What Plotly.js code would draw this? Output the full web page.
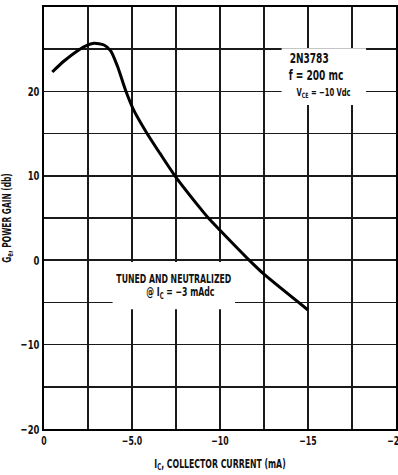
<!DOCTYPE html>
<html>
<head>
<meta charset="utf-8">
<script src="https://cdn.plot.ly/plotly-3.0.1.min.js"></script>
<style>
html,body{margin:0;padding:0;background:#fff;}
#chart{width:398px;height:475px;}
#chart svg text{font-stretch:condensed;}
</style>
</head>
<body>
<div id="chart"></div>
<script>
// Collector current (mA) and power gain (db)
const collectorCurrent = [-0.47, -1.14, -1.89, -2.5, -2.84, -3.41, -3.79, -4.17, -4.64, -5.07, -5.83, -6.59, -7.44, -8.86, -9.34, -10.0, -11.7, -12.5, -15.0];
const powerGain = [22.3, 23.6, 24.8, 25.5, 25.7, 25.5, 24.8, 23.0, 20.1, 17.9, 15.1, 12.65, 10.0, 6.2, 5.0, 3.55, -0.08, -1.66, -5.9];

const xTickVals = [0, -2.5, -5, -7.5, -10, -12.5, -15, -17.5, -20];
const xTickText = ['0', '', '\u22125.0', '', '\u221210', '', '\u221215', '', '\u221220'];
const yTickVals = [30, 25, 20, 15, 10, 5, 0, -5, -10, -15, -20];
const yTickText = ['30', '', '20', '', '10', '', '0', '', '\u221210', '', '\u221220'];

const FONT = 'DejaVu Sans Condensed, DejaVu Sans, sans-serif';
const SQUEEZE = 0.72; // narrow the glyphs toward the condensed type of the reference

const trace = {
  x: collectorCurrent,
  y: powerGain,
  mode: 'lines',
  line: {color: '#000', width: 3, shape: 'spline', smoothing: 0.7},
  hoverinfo: 'skip',
  showlegend: false
};

const layout = {
  width: 398,
  height: 475,
  margin: {l: 44, r: 2, t: 7, b: 46},
  paper_bgcolor: '#fff',
  plot_bgcolor: '#fff',
  font: {family: FONT, color: '#111', size: 13, weight: 'bold'},
  xaxis: {
    range: [0, -20],
    tickvals: xTickVals,
    ticktext: xTickText,
    ticklabeloverflow: 'allow',
    showgrid: true,
    gridcolor: '#1a1a1a',
    gridwidth: 1.5,
    zeroline: false,
    showline: true,
    mirror: true,
    linecolor: '#000',
    linewidth: 2,
    ticks: '',
    tickfont: {family: FONT, size: 12, weight: 'bold', color: '#111'},
    title: {text: 'I<sub>C</sub>, COLLECTOR CURRENT (mA)', font: {family: FONT, size: 12, weight: 'bold', color: '#111'}, standoff: 12}
  },
  yaxis: {
    range: [-20, 30],
    tickvals: yTickVals,
    ticktext: yTickText,
    showgrid: true,
    gridcolor: '#1a1a1a',
    gridwidth: 1.5,
    zeroline: false,
    showline: true,
    mirror: true,
    linecolor: '#000',
    linewidth: 2,
    ticks: '',
    tickfont: {family: FONT, size: 13, weight: 'bold', color: '#111'},
    title: {text: 'G<sub>e</sub>, POWER GAIN (db)', font: {family: FONT, size: 11.5, weight: 'bold', color: '#111'}, standoff: 6}
  },
  shapes: [
    {type: 'rect', xref: 'x', yref: 'y', x0: -13.5, x1: -18.3, y0: 18.4, y1: 25.1,
     fillcolor: '#fff', line: {width: 0}, layer: 'between'},
    {type: 'rect', xref: 'x', yref: 'y', x0: -3.9, x1: -10.85, y0: -5.8, y1: -0.2,
     fillcolor: '#fff', line: {width: 0}, layer: 'between'}
  ],
  annotations: [
    {x: -15.03, y: 23.95, xref: 'x', yref: 'y', xanchor: 'center', yanchor: 'middle', showarrow: false, borderpad: 0,
     text: '2N3783', font: {family: FONT, size: 14, weight: 'bold', color: '#111'}},
    {x: -15.48, y: 22.0, xref: 'x', yref: 'y', xanchor: 'center', yanchor: 'middle', showarrow: false, borderpad: 0,
     text: 'f = 200 mc', font: {family: FONT, size: 14, weight: 'bold', color: '#111'}},
    {x: -15.88, y: 19.8, xref: 'x', yref: 'y', xanchor: 'center', yanchor: 'middle', showarrow: false, borderpad: 0,
     text: 'V<sub>CE</sub> = \u221210 Vdc', font: {family: FONT, size: 10.5, weight: 'bold', color: '#111'}},
    {x: -7.36, y: -2.2, xref: 'x', yref: 'y', xanchor: 'center', yanchor: 'middle', showarrow: false, borderpad: 0,
     text: 'TUNED AND NEUTRALIZED', font: {family: FONT, size: 12, weight: 'bold', color: '#111'}},
    {x: -7.78, y: -3.9, xref: 'x', yref: 'y', xanchor: 'center', yanchor: 'middle', showarrow: false, borderpad: 0,
     text: '@ I<sub>C</sub> = \u22123 mAdc', font: {family: FONT, size: 12, weight: 'bold', color: '#111'}}
  ]
};

Plotly.newPlot('chart', [trace], layout, {staticPlot: true, displayModeBar: false}).then(function (gd) {
  gd.querySelectorAll('svg text').forEach(function (t) {
    if (!t.textContent.trim()) return;
    const w = t.getComputedTextLength();
    if (!(w > 0)) return;
    t.setAttribute('textLength', (w * SQUEEZE).toFixed(1));
    t.setAttribute('lengthAdjust', 'spacingAndGlyphs');
  });
});
</script>
</body>
</html>
